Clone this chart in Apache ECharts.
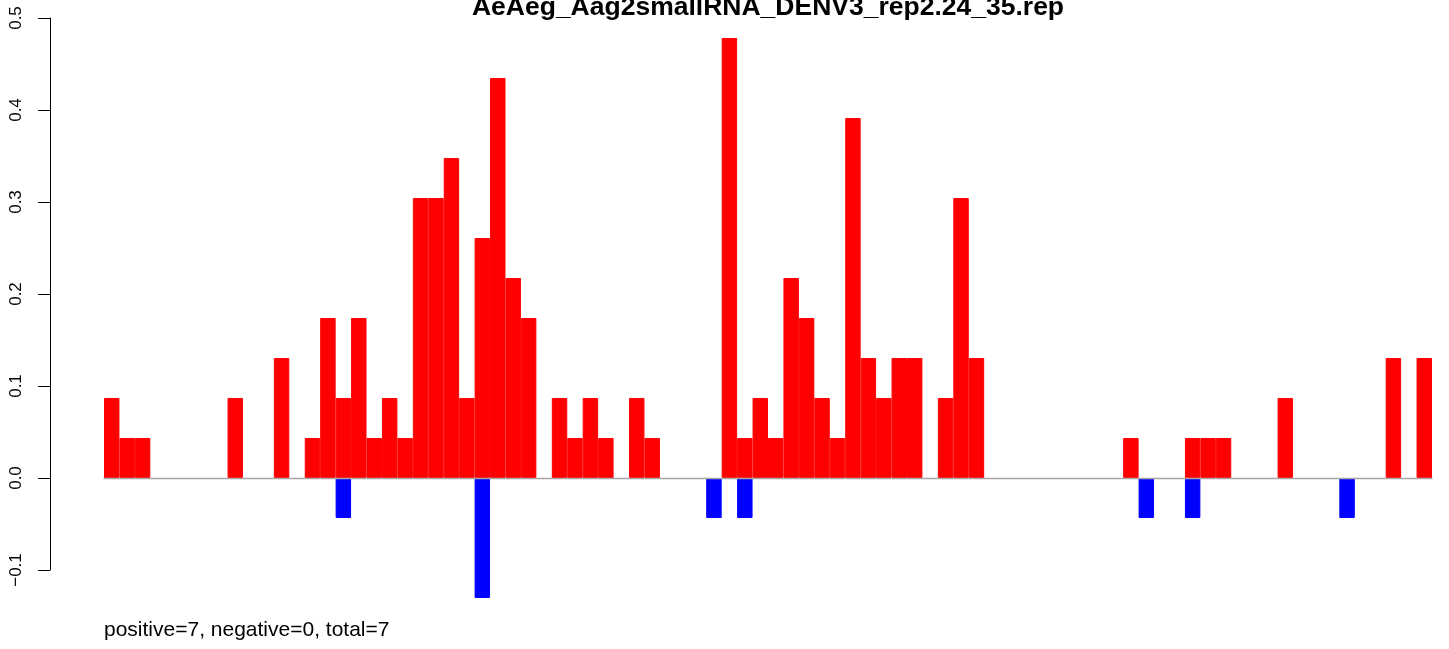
<!DOCTYPE html>
<html>
<head>
<meta charset="utf-8">
<script src="https://cdn.jsdelivr.net/npm/echarts@6/dist/echarts.min.js"></script>
<style>html,body{margin:0;padding:0;background:#fff;}#c{width:1449px;height:649px;}</style>
</head>
<body>
<div id="c"></div>
<script>
const titleText = 'AeAeg_Aag2smallRNA_DENV3_rep2.24_35.rep';
const footText = 'positive=7, negative=0, total=7';
const categories = ['1','2','3','4','5','6','7','8','9','10','11','12','13','14','15','16','17','18','19','20',
'21','22','23','24','25','26','27','28','29','30','31','32','33','34','35','36','37','38','39','40',
'41','42','43','44','45','46','47','48','49','50','51','52','53','54','55','56','57','58','59','60',
'61','62','63','64','65','66','67','68','69','70','71','72','73','74','75','76','77','78','79','80',
'81','82','83','84','85','86'];
const positiveValues = [
0.087,0.0435,0.0435,0,0,0,0,0,0.087,0,
0,0.1304,0,0.0435,0.1739,0.087,0.1739,0.0435,0.087,0.0435,
0.3043,0.3043,0.3478,0.087,0.2609,0.4348,0.2174,0.1739,0,0.087,
0.0435,0.087,0.0435,0,0.087,0.0435,0,0,0,0,
0.4783,0.0435,0.087,0.0435,0.2174,0.1739,0.087,0.0435,0.3913,0.1304,
0.087,0.1304,0.1304,0,0.087,0.3043,0.1304,0,0,0,
0,0,0,0,0,0,0.0435,0,0,0,
0.0435,0.0435,0.0435,0,0,0,0.087,0,0,0,
0,0,0,0.1304,0,0.1304];
const negativeValues = [
0,0,0,0,0,0,0,0,0,0,
0,0,0,0,0,-0.0435,0,0,0,0,
0,0,0,0,-0.1304,0,0,0,0,0,
0,0,0,0,0,0,0,0,0,-0.0435,
0,-0.0435,0,0,0,0,0,0,0,0,
0,0,0,0,0,0,0,0,0,0,
0,0,0,0,0,0,0,-0.0435,0,0,
-0.0435,0,0,0,0,0,0,0,0,0,
-0.0435,0,0,0,0,0];
const yTicks = [-0.1, 0.0, 0.1, 0.2, 0.3, 0.4, 0.5];

// zero-height bars are left empty so their outline is not drawn
const asBars = arr => arr.map(v => (v === 0 ? '-' : v));

const chart = echarts.init(document.getElementById('c'), null, {renderer: 'canvas'});
chart.setOption({
  animation: false,
  backgroundColor: '#ffffff',
  textStyle: {fontFamily: 'Liberation Sans, Arial, sans-serif'},
  grid: {left: 104, right: 17, top: 18, bottom: 79, containLabel: false},
  xAxis: {
    type: 'category',
    data: categories,
    z: 5,
    axisLine: {show: true, onZero: true, lineStyle: {color: '#a6a6a6', width: 1.3}},
    axisTick: {show: false},
    axisLabel: {show: false},
    splitLine: {show: false}
  },
  yAxis: {
    type: 'value',
    min: yTicks[0],
    max: yTicks[yTicks.length - 1],
    interval: 0.1,
    offset: 54,
    axisLine: {show: true, onZero: false, lineStyle: {color: '#000', width: 1}},
    axisTick: {show: true, length: 12, lineStyle: {color: '#000', width: 1}},
    splitLine: {show: false},
    axisLabel: {
      rotate: 90,
      margin: 25,
      fontSize: 17,
      color: '#000',
      fontFamily: 'Liberation Sans, Arial, sans-serif',
      formatter: v => v.toFixed(1).replace('-', '\u2212')
    }
  },
  series: [
    {
      type: 'bar',
      data: asBars(positiveValues),
      barCategoryGap: '0%',
      barGap: '-100%',
      clip: false,
      itemStyle: {color: '#ff0000', borderColor: '#ff0000', borderWidth: 1}
    },
    {
      type: 'bar',
      data: asBars(negativeValues),
      barCategoryGap: '0%',
      barGap: '-100%',
      clip: false,
      itemStyle: {color: '#0000ff', borderColor: '#0000ff', borderWidth: 1}
    }
  ],
  graphic: [
    {type: 'text', x: 768, y: -6, style: {text: titleText, font: 'bold 26.5px Liberation Sans, Arial, sans-serif', fill: '#000', align: 'center', verticalAlign: 'top'}},
    {type: 'text', x: 104, y: 620, style: {text: footText, font: '21px Liberation Sans, Arial, sans-serif', fill: '#000', align: 'left', verticalAlign: 'top'}}
  ]
});
</script>
</body>
</html>
